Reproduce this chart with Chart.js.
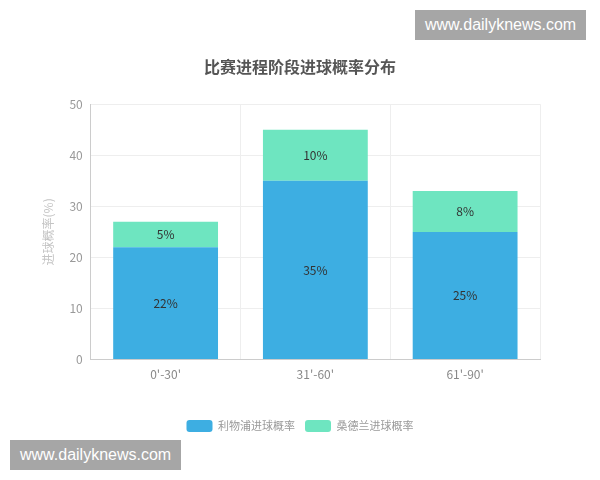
<!DOCTYPE html>
<html>
<head>
<meta charset="utf-8">
<script src="https://cdn.jsdelivr.net/npm/chart.js@4.4.0/dist/chart.umd.min.js"></script>
<style>
  html, body { margin: 0; padding: 0; background: #fff; }
  #wrap { position: relative; width: 600px; height: 480px; }
  .mark { position: absolute; background: #a6a6a6; color: #fff; font-family: "Liberation Sans", Arial, sans-serif; font-size: 16px; line-height: 30px; padding: 0 10px; }
</style>
</head>
<body>
<div id="wrap">
  <canvas id="chart" width="600" height="480"></canvas>
  <div class="mark" style="left:415px; top:10px;">www.dailyknews.com</div>
  <div class="mark" style="left:10px; top:440px;">www.dailyknews.com</div>
</div>
<script>
const stages = ["0'-30'", "31'-60'", "61'-90'"];
const liverpool = [22, 35, 25];
const sunderland = [5, 10, 8];
const yTicks = [0, 10, 20, 30, 40, 50];

const font = '"Noto Sans CJK SC", "Noto Sans", sans-serif';

// draws the percent text in the middle of each bar piece
const barLabels = {
    id: 'barLabels',
    afterDatasetsDraw(chart) {
        const ctx = chart.ctx;
        ctx.save();
        ctx.font = '12px ' + font;
        ctx.fillStyle = '#333';
        ctx.textAlign = 'center';
        ctx.textBaseline = 'middle';
        chart.data.datasets.forEach((ds, di) => {
            chart.getDatasetMeta(di).data.forEach((bar, i) => {
                const y = (bar.y + bar.base) / 2;
                ctx.fillText(ds.data[i] + '%', bar.x, y);
            });
        });
        ctx.restore();
    }
};

new Chart(document.getElementById('chart'), {
    type: 'bar',
    data: {
        labels: stages,
        datasets: [
            { label: '利物浦进球概率', data: liverpool, backgroundColor: '#3daee2', categoryPercentage: 0.7, barPercentage: 1 },
            { label: '桑德兰进球概率', data: sunderland, backgroundColor: '#6ee5c0', categoryPercentage: 0.7, barPercentage: 1 }
        ]
    },
    options: {
        responsive: false,
        animation: false,
        layout: { padding: { left: 35, right: 35, top: 57, bottom: 38 } },
        plugins: {
            title: {
                display: true,
                text: '比赛进程阶段进球概率分布',
                color: '#555',
                font: { family: font, size: 16, weight: 'bold' },
                padding: { top: 0, bottom: 28 }
            },
            legend: {
                position: 'bottom',
                labels: {
                    color: '#999',
                    font: { family: font, size: 11 },
                    boxWidth: 26,
                    boxHeight: 12,
                    useBorderRadius: true,
                    borderRadius: 3,
                    padding: 10
                }
            },
            tooltip: { enabled: false }
        },
        scales: {
            x: {
                stacked: true,
                grid: { color: '#eee', drawTicks: false },
                border: { color: '#ccc' },
                ticks: { color: '#888', font: { family: font, size: 12 }, padding: 8 },
                afterFit: axis => { axis.height += 20; }
            },
            y: {
                stacked: true,
                min: 0,
                max: 50,
                afterBuildTicks: axis => { axis.ticks = yTicks.map(v => ({ value: v })); },
                grid: { color: '#eee', drawTicks: false },
                border: { color: '#ccc' },
                ticks: { color: '#999', font: { family: font, size: 12 }, padding: 8 },
                title: { display: true, text: '进球概率(%)', color: '#c4c4c4', font: { family: font, size: 12 }, padding: 6 }
            },
            // empty right axis, only keeps the plot off the right edge
            yRight: {
                position: 'right',
                grid: { display: false },
                border: { display: false },
                ticks: { display: false },
                afterFit: axis => { axis.width = 25; }
            }
        }
    },
    plugins: [barLabels]
});
</script>
</body>
</html>
